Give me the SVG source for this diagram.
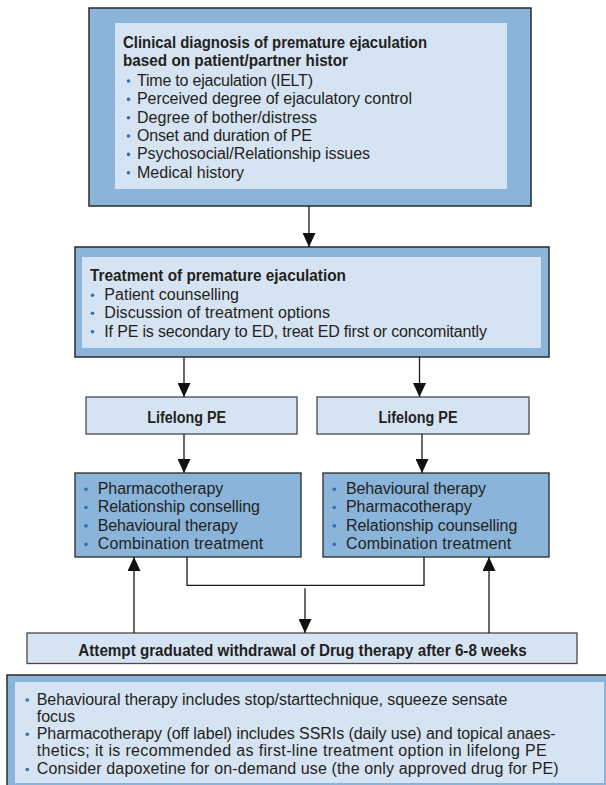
<svg xmlns="http://www.w3.org/2000/svg" width="606" height="785" viewBox="0 0 606 785">
<defs>
<style>
.outer{fill:#8ab4da;stroke:#2a2a2a;stroke-width:1.5}
.inner{fill:#d6e3f2;stroke:none}
.pale{fill:#d6e3f2;stroke:#4a4a4a;stroke-width:1.3}
.mid{fill:#8ab4da;stroke:#2a2a2a;stroke-width:1.3}
text{font-family:"Liberation Sans",Arial,sans-serif;fill:#231f20}
.t{font-size:16px}
.b{font-size:16px;font-weight:bold}
.dot{fill:#2f6fb5}
.conn{fill:none;stroke:#1a1a1a;stroke-width:1.3}
</style>
<marker id="ah" markerUnits="userSpaceOnUse" markerWidth="14" markerHeight="13" refX="14" refY="6.5" orient="auto">
<path d="M0,0 L14,6.5 L0,13 z" fill="#111"/>
</marker>
</defs>
<rect width="606" height="785" fill="#ffffff"/>

<g id="diagnosis">
<rect class="outer" x="89" y="8" width="442" height="198"/>
<rect class="inner" x="115" y="23" width="392" height="166"/>
<text class="b" x="123" y="48" textLength="304" lengthAdjust="spacingAndGlyphs">Clinical diagnosis of premature ejaculation</text>
<text class="b" x="123" y="66.3" textLength="225" lengthAdjust="spacingAndGlyphs">based on patient/partner histor</text>
<circle class="dot" cx="128.5" cy="81" r="1.8"/>
<text class="t" x="137" y="85.8" textLength="176">Time to ejaculation (IELT)</text>
<circle class="dot" cx="128.5" cy="99.4" r="1.8"/>
<text class="t" x="137" y="104.2" textLength="275">Perceived degree of ejaculatory control</text>
<circle class="dot" cx="128.5" cy="117.7" r="1.8"/>
<text class="t" x="137" y="122.5" textLength="180">Degree of bother/distress</text>
<circle class="dot" cx="128.5" cy="136" r="1.8"/>
<text class="t" x="137" y="140.8" textLength="175">Onset and duration of PE</text>
<circle class="dot" cx="128.5" cy="154.4" r="1.8"/>
<text class="t" x="137" y="159.2" textLength="233">Psychosocial/Relationship issues</text>
<circle class="dot" cx="128.5" cy="172.7" r="1.8"/>
<text class="t" x="137" y="177.5" textLength="107">Medical history</text>
</g>

<g id="treatment">
<rect class="outer" x="75" y="247" width="474" height="110"/>
<rect class="inner" x="82" y="257" width="459" height="91"/>
<text class="b" x="90" y="280.5" textLength="256" lengthAdjust="spacingAndGlyphs">Treatment of premature ejaculation</text>
<circle class="dot" cx="92.5" cy="295.2" r="1.8"/>
<text class="t" x="104.3" y="300" textLength="134.7">Patient counselling</text>
<circle class="dot" cx="92.5" cy="313.2" r="1.8"/>
<text class="t" x="104.3" y="318" textLength="225.7">Discussion of treatment options</text>
<circle class="dot" cx="92.5" cy="331.7" r="1.8"/>
<text class="t" x="104.3" y="336.5" textLength="382.7">If PE is secondary to ED, treat ED first or concomitantly</text>
</g>

<g id="lifelong-left">
<rect class="pale" x="86" y="397" width="211" height="37"/>
<text class="b" x="186.7" y="422.5" text-anchor="middle" textLength="79" lengthAdjust="spacingAndGlyphs">Lifelong PE</text>
</g>

<g id="lifelong-right">
<rect class="pale" x="317" y="397" width="212" height="37"/>
<text class="b" x="418" y="422.5" text-anchor="middle" textLength="79" lengthAdjust="spacingAndGlyphs">Lifelong PE</text>
</g>

<g id="options-left">
<rect class="mid" x="75" y="473" width="226" height="84"/>
<circle class="dot" cx="86" cy="489.2" r="1.8"/>
<text class="t" x="97.7" y="494" textLength="125.6">Pharmacotherapy</text>
<circle class="dot" cx="86" cy="507.5" r="1.8"/>
<text class="t" x="97.7" y="512.3" textLength="162.3">Relationship conselling</text>
<circle class="dot" cx="86" cy="525.9" r="1.8"/>
<text class="t" x="97.7" y="530.7" textLength="140">Behavioural therapy</text>
<circle class="dot" cx="86" cy="544.4" r="1.8"/>
<text class="t" x="97.7" y="549.2" textLength="165.6">Combination treatment</text>
</g>

<g id="options-right">
<rect class="mid" x="323" y="473" width="226" height="84"/>
<circle class="dot" cx="334.3" cy="489.2" r="1.8"/>
<text class="t" x="346" y="494" textLength="140">Behavioural therapy</text>
<circle class="dot" cx="334.3" cy="507.5" r="1.8"/>
<text class="t" x="346" y="512.3" textLength="125.7">Pharmacotherapy</text>
<circle class="dot" cx="334.3" cy="525.9" r="1.8"/>
<text class="t" x="346" y="530.7" textLength="171.3">Relationship counselling</text>
<circle class="dot" cx="334.3" cy="544.4" r="1.8"/>
<text class="t" x="346" y="549.2" textLength="165.3">Combination treatment</text>
</g>

<g id="withdrawal">
<rect class="pale" x="27" y="633" width="550" height="30.5"/>
<text class="b" x="78.3" y="656" textLength="448.4" lengthAdjust="spacingAndGlyphs">Attempt graduated withdrawal of Drug therapy after 6-8 weeks</text>
</g>

<g id="notes">
<rect class="outer" x="7" y="675" width="610" height="120"/>
<rect class="inner" x="15" y="682" width="589" height="101"/>
<circle class="dot" cx="27.3" cy="700" r="1.8"/>
<text class="t" x="36.7" y="704.8" textLength="470.6">Behavioural therapy includes stop/starttechnique, squeeze sensate</text>
<text class="t" x="36.7" y="722">focus</text>
<circle class="dot" cx="27.3" cy="734.2" r="1.8"/>
<text class="t" x="36.7" y="739" textLength="519">Pharmacotherapy (off label) includes SSRIs (daily use) and topical anaes-</text>
<text class="t" x="36.7" y="756.2" textLength="510">thetics; it is recommended as first-line treatment option in lifelong PE</text>
<circle class="dot" cx="27.3" cy="769.5" r="1.8"/>
<text class="t" x="36.7" y="774.3" textLength="522">Consider dapoxetine for on-demand use (the only approved drug for PE)</text>
</g>

<g id="connectors">
<line class="conn" x1="309" y1="206" x2="309" y2="247" marker-end="url(#ah)"/>
<line class="conn" x1="184" y1="357" x2="184" y2="397" marker-end="url(#ah)"/>
<line class="conn" x1="419.5" y1="357" x2="419.5" y2="397" marker-end="url(#ah)"/>
<line class="conn" x1="184" y1="434" x2="184" y2="473" marker-end="url(#ah)"/>
<line class="conn" x1="422" y1="434" x2="422" y2="473" marker-end="url(#ah)"/>
<polyline class="conn" points="187,557 187,585.3 424,585.3 424,557"/>
<line class="conn" x1="305" y1="588.3" x2="305" y2="633" marker-end="url(#ah)"/>
<line class="conn" x1="134" y1="633" x2="134" y2="557" marker-end="url(#ah)"/>
<line class="conn" x1="489" y1="633" x2="489" y2="557" marker-end="url(#ah)"/>
</g>
</svg>
